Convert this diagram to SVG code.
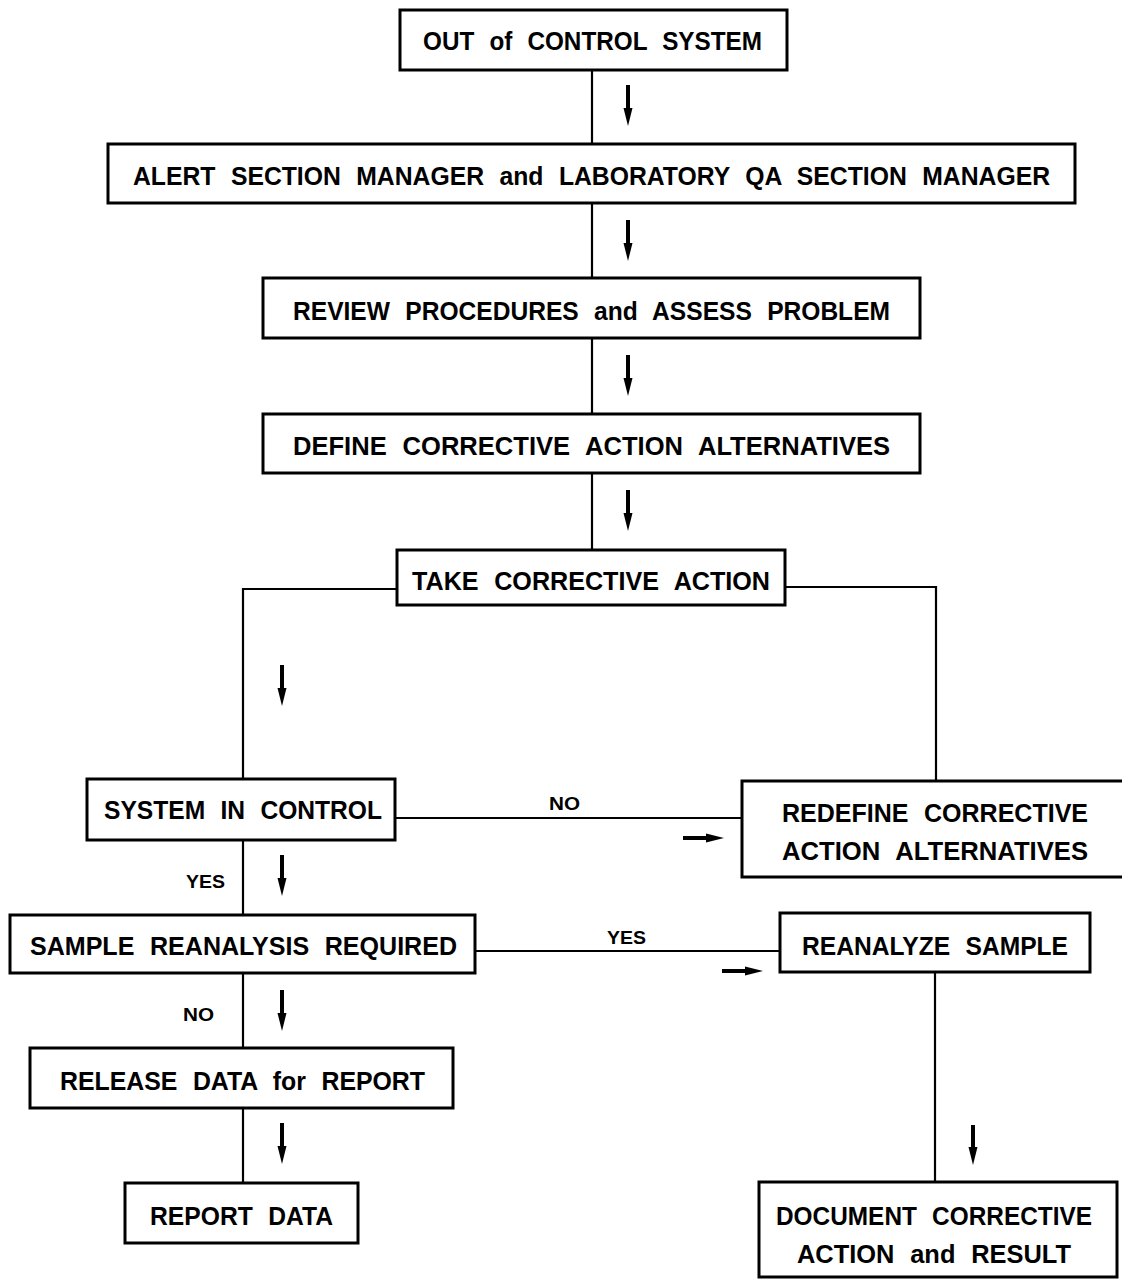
<svg xmlns="http://www.w3.org/2000/svg" width="1122" height="1279" viewBox="0 0 1122 1279">
<defs>
<marker id="ah" viewBox="0 0 18 10" refX="0" refY="5" markerUnits="userSpaceOnUse" markerWidth="18" markerHeight="10" orient="auto">
<path d="M0,0.5 L18,5 L0,9.5 z" fill="#000"/>
</marker>
<style>
.box{fill:#fff;stroke:#000;stroke-width:3}
.t{font-family:"Liberation Sans",Arial,sans-serif;font-weight:bold;font-size:26px;word-spacing:9px;fill:#000}
.l{font-family:"Liberation Sans",Arial,sans-serif;font-weight:bold;font-size:19px;fill:#000}
.c{fill:none;stroke:#000;stroke-width:2.2}
.a{stroke:#000;stroke-width:4;marker-end:url(#ah)}
</style>
</defs>
<rect width="1122" height="1279" fill="#fff"/>
<g id="connectors">
<line class="c" x1="592" y1="70" x2="592" y2="144"/>
<line class="c" x1="592" y1="203" x2="592" y2="278"/>
<line class="c" x1="592" y1="338" x2="592" y2="414"/>
<line class="c" x1="592" y1="473" x2="592" y2="550"/>
<polyline class="c" points="398,589 243,589 243,780"/>
<polyline class="c" points="785,587 936,587 936,783"/>
<line class="c" x1="395" y1="818" x2="742" y2="818"/>
<line class="c" x1="243" y1="840" x2="243" y2="915"/>
<line class="c" x1="475" y1="951" x2="780" y2="951"/>
<line class="c" x1="243" y1="973" x2="243" y2="1048"/>
<line class="c" x1="243" y1="1108" x2="243" y2="1183"/>
<line class="c" x1="935" y1="972" x2="935" y2="1182"/>
<line class="a" x1="628" y1="85" x2="628" y2="108"/>
<line class="a" x1="628" y1="220" x2="628" y2="243"/>
<line class="a" x1="628" y1="355" x2="628" y2="378"/>
<line class="a" x1="628" y1="490" x2="628" y2="513"/>
<line class="a" x1="282" y1="665" x2="282" y2="688"/>
<line class="a" x1="282" y1="855" x2="282" y2="878"/>
<line class="a" x1="282" y1="990" x2="282" y2="1013"/>
<line class="a" x1="282" y1="1123" x2="282" y2="1146"/>
<line class="a" x1="973" y1="1125" x2="973" y2="1147"/>
<line class="a" x1="683" y1="838" x2="706" y2="838"/>
<line class="a" x1="722" y1="971" x2="745" y2="971"/>
<text class="l" x="549" y="810" textLength="31" lengthAdjust="spacingAndGlyphs">NO</text>
<text class="l" x="186" y="888" textLength="39" lengthAdjust="spacingAndGlyphs">YES</text>
<text class="l" x="607" y="944" textLength="39" lengthAdjust="spacingAndGlyphs">YES</text>
<text class="l" x="183" y="1021" textLength="31" lengthAdjust="spacingAndGlyphs">NO</text>
</g>
<g id="n1"><rect class="box" x="400" y="10" width="387" height="60"/>
<text class="t" x="423" y="50" textLength="339" lengthAdjust="spacingAndGlyphs">OUT of CONTROL SYSTEM</text></g>
<g id="n2"><rect class="box" x="108" y="144" width="967" height="59"/>
<text class="t" x="133" y="185" textLength="917" lengthAdjust="spacingAndGlyphs">ALERT SECTION MANAGER and LABORATORY QA SECTION MANAGER</text></g>
<g id="n3"><rect class="box" x="263" y="278" width="657" height="60"/>
<text class="t" x="293" y="320" textLength="597" lengthAdjust="spacingAndGlyphs">REVIEW PROCEDURES and ASSESS PROBLEM</text></g>
<g id="n4"><rect class="box" x="263" y="414" width="657" height="59"/>
<text class="t" x="293" y="455" textLength="597" lengthAdjust="spacingAndGlyphs">DEFINE CORRECTIVE ACTION ALTERNATIVES</text></g>
<g id="n5"><rect class="box" x="397" y="550" width="388" height="55"/>
<text class="t" x="412" y="590" textLength="358" lengthAdjust="spacingAndGlyphs">TAKE CORRECTIVE ACTION</text></g>
<g id="n6"><rect class="box" x="87" y="779" width="308" height="61"/>
<text class="t" x="104" y="819" textLength="278" lengthAdjust="spacingAndGlyphs">SYSTEM IN CONTROL</text></g>
<g id="n7"><rect class="box" x="742" y="781" width="400" height="96"/>
<text class="t" x="782" y="822" textLength="306" lengthAdjust="spacingAndGlyphs">REDEFINE CORRECTIVE</text>
<text class="t" x="782" y="860" textLength="306" lengthAdjust="spacingAndGlyphs">ACTION ALTERNATIVES</text></g>
<g id="n8"><rect class="box" x="10" y="915" width="465" height="58"/>
<text class="t" x="30" y="955" textLength="427" lengthAdjust="spacingAndGlyphs">SAMPLE REANALYSIS REQUIRED</text></g>
<g id="n9"><rect class="box" x="780" y="913" width="310" height="59"/>
<text class="t" x="802" y="955" textLength="266" lengthAdjust="spacingAndGlyphs">REANALYZE SAMPLE</text></g>
<g id="n10"><rect class="box" x="30" y="1048" width="423" height="60"/>
<text class="t" x="60" y="1090" textLength="365" lengthAdjust="spacingAndGlyphs">RELEASE DATA for REPORT</text></g>
<g id="n11"><rect class="box" x="125" y="1183" width="233" height="60"/>
<text class="t" x="150" y="1225" textLength="183" lengthAdjust="spacingAndGlyphs">REPORT DATA</text></g>
<g id="n12"><rect class="box" x="759" y="1182" width="358" height="95"/>
<text class="t" x="776" y="1225" textLength="316" lengthAdjust="spacingAndGlyphs">DOCUMENT CORRECTIVE</text>
<text class="t" x="797" y="1263" textLength="274" lengthAdjust="spacingAndGlyphs">ACTION and RESULT</text></g>
</svg>
